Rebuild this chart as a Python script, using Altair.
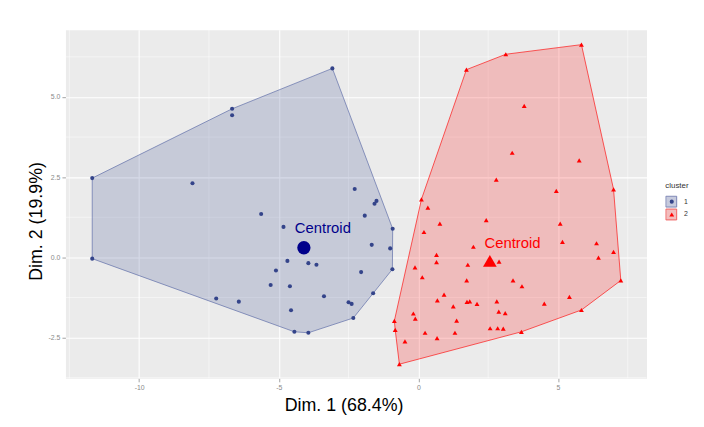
import altair as alt
import pandas as pd

# ---- data ----
c1_x = [-3.08, -6.67, -6.67, -11.68, -8.09, -11.68, -2.28, -1.50, -1.57, -1.92, -5.63,
        -4.83, -0.92, -1.67, -1.01, -4.69, -3.94, -3.65, -0.93, -5.10, -2.05, -5.29,
        -4.60, -1.62, -7.24, -6.43, -3.38, -2.50, -2.39, -4.56, -2.33, -4.44, -3.94]
c1_y = [5.89, 4.63, 4.43, 2.47, 2.31, -0.04, 2.13, 1.76, 1.67, 1.30, 1.35,
        0.95, 0.89, 0.39, 0.28, -0.11, -0.18, -0.23, -0.37, -0.41, -0.46, -0.86,
        -0.90, -1.12, -1.28, -1.38, -1.21, -1.40, -1.45, -1.65, -1.89, -2.32, -2.35]
c2_x = [5.84, 3.13, 1.72, 3.79, 3.36, 5.76, 2.79, 4.94, 6.99, 0.11, 0.34, 0.77, 2.43,
        5.08, 0.20, 5.16, 6.38, 1.97, 6.99, 0.65, 6.45, 0.65, 2.89, 1.77, -0.12, 7.25,
        0.14, 1.73, 3.39, 3.71, 0.92, 5.41, 0.68, 1.74, 1.84, 2.10, 2.81, 4.51, 1.25,
        5.84, 2.88, 3.11, -0.18, -0.11, 1.37, -0.86, -0.83, 0.24, 1.31, 2.57, 2.84,
        3.04, 3.69, 0.67, -0.48, -0.68]
c2_y = [6.63, 6.33, 5.85, 4.72, 3.26, 3.02, 2.42, 2.07, 2.12, 1.81, 1.55, 1.05, 1.16,
        1.05, 0.79, 0.48, 0.44, 0.33, 0.17, 0.08, -0.01, -0.15, -0.13, -0.23, -0.31, -0.72,
        -0.62, -0.72, -0.72, -0.90, -1.16, -1.23, -1.34, -1.39, -1.37, -1.45, -1.37, -1.44,
        -1.53, -1.64, -1.69, -1.74, -1.75, -1.91, -1.97, -1.98, -2.26, -2.35, -2.35, -2.21,
        -2.21, -2.22, -2.32, -2.52, -2.62, -3.33]
clusters = ["1", "2"]
cent_x = [-4.10, 2.56]
cent_y = [0.30, -0.11]
lab_x = [-3.42, 3.37]
lab_y = [0.92, 0.44]
lab_text = ["Centroid", "Centroid"]
x_major = [-10, -5, 0, 5]
y_major = [-2.5, 0.0, 2.5, 5.0]
x_minor = [-12.5, -7.5, -2.5, 2.5, 7.5]
y_minor = [-3.75, -1.25, 1.25, 3.75, 6.25]
x_domain = [-12.64, 8.17]
y_domain = [-3.77, 7.09]

C1 = "#34448A"
C2 = "#FF0000"


def convex_hull(xs, ys):
    pts = sorted(set(zip(xs, ys)))

    def cross(o, a, b):
        return (a[0] - o[0]) * (b[1] - o[1]) - (a[1] - o[1]) * (b[0] - o[0])

    lower, upper = [], []
    for p in pts:
        while len(lower) >= 2 and cross(lower[-2], lower[-1], p) <= 0:
            lower.pop()
        lower.append(p)
    for p in reversed(pts):
        while len(upper) >= 2 and cross(upper[-2], upper[-1], p) <= 0:
            upper.pop()
        upper.append(p)
    h = lower[:-1] + upper[:-1]
    return h + [h[0]]


rows = []
for cl, xs, ys in [("1", c1_x, c1_y), ("2", c2_x, c2_y)]:
    for i, (hx, hy) in enumerate(convex_hull(xs, ys)):
        rows.append({"cluster": cl, "idx": i, "x": hx, "y": hy})
hull_df = pd.DataFrame(rows)

pts_df = pd.concat([
    pd.DataFrame({"cluster": "1", "x": c1_x, "y": c1_y}),
    pd.DataFrame({"cluster": "2", "x": c2_x, "y": c2_y}),
], ignore_index=True)
cent_df = pd.DataFrame({"cluster": clusters, "x": cent_x, "y": cent_y})
lab_df = pd.DataFrame({"cluster": clusters, "x": lab_x, "y": lab_y, "label": lab_text})
key_df = pd.DataFrame({"cluster": clusters})

minus = "replace(datum.label, '\u2212', '-')"
xscale = alt.Scale(domain=x_domain, nice=False, zero=False)
yscale = alt.Scale(domain=y_domain, nice=False, zero=False)
xaxis = alt.Axis(values=x_major, format="d", labelExpr=minus, title="Dim. 1 (68.4%)",
                 titleX=281, titleY=32, titleBaseline="alphabetic")
yaxis = alt.Axis(values=y_major, format=".1f", labelExpr=minus, title="Dim. 2 (19.9%)",
                 titleX=-24, titleY=193, titleBaseline="alphabetic")


def X(f="x"):
    return alt.X(f"{f}:Q", scale=xscale, axis=xaxis)


def Y(f="y"):
    return alt.Y(f"{f}:Q", scale=yscale, axis=yaxis)


minor_x = alt.Chart(pd.DataFrame({"v": x_minor})).mark_rule(
    color="white", strokeWidth=0.5).encode(x=X("v"))
minor_y = alt.Chart(pd.DataFrame({"v": y_minor})).mark_rule(
    color="white", strokeWidth=0.5).encode(y=Y("v"))

hull1 = alt.Chart(hull_df).transform_filter(alt.datum.cluster == "1").mark_line(
    fill=C1, fillOpacity=0.2, stroke="#5C6AA6", strokeOpacity=0.75, strokeWidth=0.9
).encode(x=X(), y=Y(), order="idx:Q")
hull2 = alt.Chart(hull_df).transform_filter(alt.datum.cluster == "2").mark_line(
    fill=C2, fillOpacity=0.2, stroke=C2, strokeOpacity=0.7, strokeWidth=0.9
).encode(x=X(), y=Y(), order="idx:Q")

leg_common = dict(orient="none", legendX=606, legendY=154, padding=0,
                  titleFontSize=8, titleFontWeight="normal", titleFont="Liberation Sans",
                  titlePadding=5, labelFontSize=7, labelFont="Liberation Sans",
                  clipHeight=13, rowPadding=0, labelOffset=7)

key_legend = alt.Legend(title="cluster", symbolSize=120, symbolType="square",
                        symbolStrokeWidth=1, titleColor="#333333",
                        labelColor="#333333", zindex=0, **leg_common)
key_layer = alt.Chart(key_df).mark_square(fillOpacity=0, strokeOpacity=0, size=1).encode(
    fill=alt.Fill("cluster:N", scale=alt.Scale(range=["#C6CADD", "#F2BDBD"]), legend=key_legend),
    stroke=alt.Stroke("cluster:N", scale=alt.Scale(range=["#7A84B4", "#F06060"]), legend=key_legend),
)

pt_legend = alt.Legend(title="cluster", symbolSize=30, symbolOffset=3,
                       titleColor="transparent", labelExpr="''",
                       zindex=1, **leg_common)
points = alt.Chart(pts_df).mark_point(filled=True, opacity=1).encode(
    x=X(), y=Y(),
    color=alt.Color("cluster:N", scale=alt.Scale(domain=clusters, range=[C1, C2]), legend=pt_legend),
    shape=alt.Shape("cluster:N", scale=alt.Scale(domain=clusters, range=["circle", "triangle-up"]),
                    legend=pt_legend),
    size=alt.Size("cluster:N", scale=alt.Scale(domain=clusters, range=[17, 24]), legend=None),
)

cent1 = alt.Chart(cent_df).transform_filter(alt.datum.cluster == "1").mark_point(
    shape="circle", filled=True, opacity=1, size=180, color="#00008B").encode(x=X(), y=Y())
cent2 = alt.Chart(cent_df).transform_filter(alt.datum.cluster == "2").mark_point(
    shape="triangle-up", filled=True, opacity=1, size=190, color="#FF0000").encode(x=X(), y=Y())

lab1 = alt.Chart(lab_df).transform_filter(alt.datum.cluster == "1").mark_text(
    fontSize=15, font="Liberation Sans", color="#00008B", align="center", baseline="middle"
).encode(x=X(), y=Y(), text="label:N")
lab2 = alt.Chart(lab_df).transform_filter(alt.datum.cluster == "2").mark_text(
    fontSize=15, font="Liberation Sans", color="#FF0000", align="center", baseline="middle"
).encode(x=X(), y=Y(), text="label:N")

chart = alt.layer(
    minor_x, minor_y, hull1, hull2, key_layer, points, cent1, cent2, lab1, lab2
).properties(
    width=587, height=352,
    autosize=alt.AutoSizeParams(type="none"),
    padding={"left": 58, "top": 20, "right": 50, "bottom": 40},
    view=alt.ViewBackground(fill="#EBEBEB", stroke="transparent"),
).configure_view(
    fill="#EBEBEB", stroke="transparent"
).configure_axis(
    grid=True, gridColor="white", gridWidth=1.1, domain=False,
    tickColor="#666666", tickSize=3.5, tickWidth=0.6,
    labelFontSize=7, labelColor="#8A8A8A", labelFont="Liberation Sans", labelPadding=2,
    titleFont="Liberation Sans", titleFontSize=18, titleFontWeight="normal", titleColor="black",
)

chart.save("out.html", embed_options={"renderer": "svg", "actions": False})
